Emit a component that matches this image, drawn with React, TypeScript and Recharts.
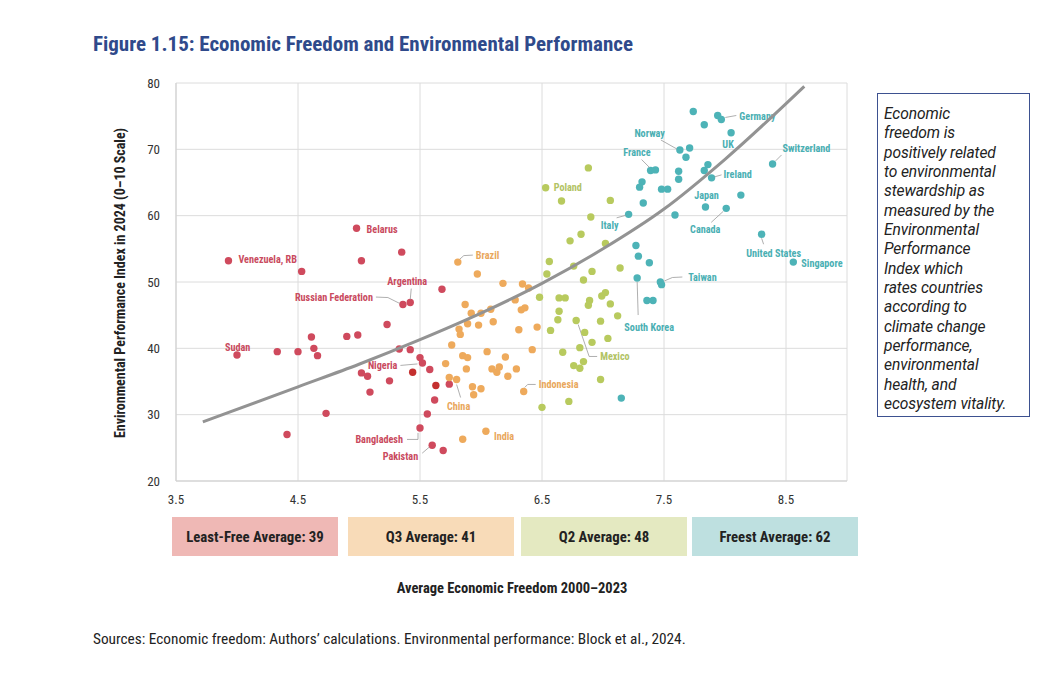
import { CartesianGrid, Scatter, ScatterChart, XAxis, YAxis } from "recharts";

type Pt = { x: number; y: number; name?: string };

// Least-free quartile
const leastFree: Pt[] = [
  { x: 4.98, y: 58.1, name: "Belarus" },
  { x: 3.93, y: 53.2, name: "Venezuela, RB" },
  { x: 5.35, y: 54.5 },
  { x: 5.02, y: 53.2 },
  { x: 4.53, y: 51.6 },
  { x: 5.68, y: 48.9 },
  { x: 5.42, y: 46.9, name: "Argentina" },
  { x: 5.36, y: 46.6, name: "Russian Federation" },
  { x: 5.23, y: 43.6 },
  { x: 4.61, y: 41.7 },
  { x: 4.9, y: 41.8 },
  { x: 4.99, y: 42.0 },
  { x: 4.0, y: 39.0, name: "Sudan" },
  { x: 4.33, y: 39.5 },
  { x: 4.5, y: 39.5 },
  { x: 4.63, y: 40.0 },
  { x: 4.66, y: 38.9 },
  { x: 5.33, y: 39.9 },
  { x: 5.42, y: 39.8 },
  { x: 5.5, y: 38.6 },
  { x: 5.52, y: 37.8, name: "Nigeria" },
  { x: 5.58, y: 36.8 },
  { x: 5.02, y: 36.3 },
  { x: 5.07, y: 35.8 },
  { x: 5.25, y: 35.1 },
  { x: 5.09, y: 33.4 },
  { x: 5.74, y: 34.6 },
  { x: 5.62, y: 32.2 },
  { x: 5.56, y: 30.1 },
  { x: 4.73, y: 30.2 },
  { x: 4.41, y: 27.0 },
  { x: 5.5, y: 28.0, name: "Bangladesh" },
  { x: 5.6, y: 25.4, name: "Pakistan" },
  { x: 5.69, y: 24.6 },
];
const leastFreeDark: Pt[] = [
  { x: 5.44, y: 36.4 },
  { x: 5.63, y: 34.4 },
];

// Third quartile
const thirdQuartile: Pt[] = [
  { x: 5.81, y: 53.0, name: "Brazil" },
  { x: 5.97, y: 51.2 },
  { x: 6.18, y: 49.8 },
  { x: 6.34, y: 49.7 },
  { x: 6.39, y: 49.1 },
  { x: 6.28, y: 47.3 },
  { x: 6.33, y: 45.8 },
  { x: 6.36, y: 46.1 },
  { x: 5.87, y: 46.6 },
  { x: 5.92, y: 45.3 },
  { x: 6.0, y: 45.3 },
  { x: 6.08, y: 45.9 },
  { x: 5.89, y: 43.7 },
  { x: 5.98, y: 43.5 },
  { x: 6.1, y: 44.0 },
  { x: 5.82, y: 42.9 },
  { x: 5.83, y: 42.1 },
  { x: 6.31, y: 42.8 },
  { x: 6.46, y: 43.2 },
  { x: 5.76, y: 40.5 },
  { x: 6.05, y: 39.5 },
  { x: 6.42, y: 39.8 },
  { x: 5.85, y: 38.9 },
  { x: 5.89, y: 38.6 },
  { x: 6.2, y: 38.7 },
  { x: 5.71, y: 37.7 },
  { x: 5.88, y: 36.9 },
  { x: 6.09, y: 36.9 },
  { x: 6.15, y: 37.2 },
  { x: 6.13, y: 36.4 },
  { x: 6.29, y: 36.9 },
  { x: 6.22, y: 35.8 },
  { x: 5.8, y: 35.3, name: "China" },
  { x: 5.74, y: 35.6 },
  { x: 5.93, y: 34.2 },
  { x: 6.0, y: 33.9 },
  { x: 5.94, y: 33.0 },
  { x: 6.35, y: 33.5, name: "Indonesia" },
  { x: 6.04, y: 27.5, name: "India" },
  { x: 5.85, y: 26.3 },
];

// Second quartile
const secondQuartile: Pt[] = [
  { x: 6.88, y: 67.2 },
  { x: 6.53, y: 64.2, name: "Poland" },
  { x: 6.66, y: 62.2 },
  { x: 7.06, y: 62.3 },
  { x: 6.9, y: 59.8 },
  { x: 6.82, y: 57.2 },
  { x: 6.73, y: 56.2 },
  { x: 7.02, y: 55.8 },
  { x: 6.56, y: 53.1 },
  { x: 6.76, y: 52.4 },
  { x: 6.54, y: 51.2 },
  { x: 6.91, y: 51.6 },
  { x: 7.14, y: 52.1 },
  { x: 6.84, y: 50.3 },
  { x: 6.48, y: 47.7 },
  { x: 6.64, y: 47.6 },
  { x: 6.69, y: 47.6 },
  { x: 6.89, y: 47.2 },
  { x: 6.88, y: 46.5 },
  { x: 6.99, y: 47.9 },
  { x: 7.02, y: 48.4 },
  { x: 7.06, y: 46.7 },
  { x: 6.64, y: 45.6 },
  { x: 7.12, y: 44.9 },
  { x: 6.63, y: 44.3 },
  { x: 6.78, y: 44.2, name: "Mexico" },
  { x: 6.98, y: 44.1 },
  { x: 6.57, y: 42.7 },
  { x: 6.85, y: 42.4 },
  { x: 6.91, y: 40.9 },
  { x: 7.04, y: 41.5 },
  { x: 6.81, y: 40.1 },
  { x: 6.67, y: 39.4 },
  { x: 6.76, y: 37.4 },
  { x: 6.84, y: 38.0 },
  { x: 6.81, y: 37.0 },
  { x: 6.98, y: 35.3 },
  { x: 6.72, y: 32.0 },
  { x: 6.5, y: 31.1 },
];

// Freest quartile
const freest: Pt[] = [
  { x: 7.74, y: 75.7 },
  { x: 7.94, y: 75.1 },
  { x: 7.97, y: 74.5, name: "Germany" },
  { x: 7.83, y: 73.7 },
  { x: 8.05, y: 72.5, name: "UK" },
  { x: 7.63, y: 69.9, name: "Norway" },
  { x: 7.71, y: 70.2 },
  { x: 7.68, y: 68.8 },
  { x: 8.39, y: 67.8, name: "Switzerland" },
  { x: 7.39, y: 66.8, name: "France" },
  { x: 7.43, y: 66.9 },
  { x: 7.62, y: 66.7 },
  { x: 7.62, y: 65.5 },
  { x: 7.86, y: 67.7 },
  { x: 7.83, y: 66.8 },
  { x: 7.89, y: 65.7, name: "Ireland" },
  { x: 7.32, y: 65.1 },
  { x: 7.3, y: 64.3 },
  { x: 7.48, y: 64.0 },
  { x: 7.53, y: 64.0 },
  { x: 7.33, y: 61.9 },
  { x: 8.13, y: 63.1 },
  { x: 7.84, y: 61.3, name: "Japan" },
  { x: 8.01, y: 61.1, name: "Canada" },
  { x: 7.59, y: 60.1 },
  { x: 7.21, y: 60.2, name: "Italy" },
  { x: 8.3, y: 57.2, name: "United States" },
  { x: 7.27, y: 55.5 },
  { x: 7.29, y: 53.9 },
  { x: 7.38, y: 52.9 },
  { x: 8.56, y: 53.0, name: "Singapore" },
  { x: 7.28, y: 50.6, name: "South Korea" },
  { x: 7.47, y: 50.0, name: "Taiwan" },
  { x: 7.48, y: 49.6 },
  { x: 7.36, y: 47.2 },
  { x: 7.41, y: 47.2 },
  { x: 7.15, y: 32.5 },
];

const trendLine = [
  { x: 3.72, y: 28.9 },
  { x: 4.5, y: 34.2 },
  { x: 5.0, y: 37.6 },
  { x: 5.5, y: 41.3 },
  { x: 6.0, y: 45.3 },
  { x: 6.5, y: 49.8 },
  { x: 7.0, y: 55.0 },
  { x: 7.5, y: 61.0 },
  { x: 8.0, y: 68.5 },
  { x: 8.65, y: 79.5 },
];

const xTicks = [3.5, 4.5, 5.5, 6.5, 7.5, 8.5];
const yTicks = [20, 30, 40, 50, 60, 70, 80];
const quartileLabels = ["Least-Free Average: 39", "Q3 Average: 41", "Q2 Average: 48", "Freest Average: 62"];
const noteLines = [
  "Economic",
  "freedom is",
  "positively related",
  "to environmental",
  "stewardship as",
  "measured by the",
  "Environmental",
  "Performance",
  "Index which",
  "rates countries",
  "according to",
  "climate change",
  "performance,",
  "environmental",
  "health, and",
  "ecosystem vitality.",
];

const FONT = '"Roboto Condensed", "Liberation Sans Narrow", "DejaVu Sans Condensed", Roboto, sans-serif';

type Layout = { dx: number; dy: number; anchor: "start" | "middle" | "end"; leader?: number[][] };

// label placement relative to the dot, in pixels
const LABELS: Record<string, Layout> = {
  Belarus: { dx: 10, dy: 1, anchor: "start" },
  "Venezuela, RB": { dx: 10, dy: -1, anchor: "start" },
  Argentina: { dx: -3, dy: -21, anchor: "middle", leader: [[0, -3], [1, -14]] },
  "Russian Federation": { dx: -30, dy: -7, anchor: "end", leader: [[-27, -7.5], [-15, -7], [-3, -1]] },
  Sudan: { dx: -12, dy: -7.5, anchor: "start" },
  Nigeria: { dx: -25, dy: 3, anchor: "end", leader: [[-22, 2.5], [-5, 1]] },
  Bangladesh: { dx: -17, dy: 11.5, anchor: "end", leader: [[-13, 11.5], [-2, 11.5], [-2, 5]] },
  Pakistan: { dx: -14, dy: 11.5, anchor: "end", leader: [[-10, 8], [-3, 2]] },
  Brazil: { dx: 18, dy: -6.5, anchor: "start", leader: [[2, -3], [6, -6.5], [15, -7]] },
  China: { dx: 2, dy: 27, anchor: "middle", leader: [[0, 5], [4, 18]] },
  Indonesia: { dx: 15, dy: -6.5, anchor: "start", leader: [[1, -4], [4, -7], [12, -7]] },
  India: { dx: 8, dy: 5.5, anchor: "start" },
  Poland: { dx: 8, dy: 0, anchor: "start" },
  Mexico: { dx: 24, dy: 36, anchor: "start", leader: [[2, 4], [13, 36], [21, 36]] },
  Germany: { dx: 18, dy: -3.3, anchor: "start", leader: [[4, -2], [15, -4]] },
  UK: { dx: -3, dy: 11.5, anchor: "middle" },
  Norway: { dx: -15, dy: -16, anchor: "end", leader: [[-19, -10], [-3, -1]] },
  France: { dx: 0, dy: -18, anchor: "end", leader: [[-9, -11], [-1, -3]] },
  Switzerland: { dx: 10, dy: -15, anchor: "start", leader: [[3, -3], [9, -9]] },
  Ireland: { dx: 12, dy: -3.7, anchor: "start", leader: [[3, -1], [10, -3]] },
  Japan: { dx: 1, dy: -11.5, anchor: "middle" },
  Canada: { dx: -21, dy: 21, anchor: "middle", leader: [[-3, 3], [-15, 14]] },
  Italy: { dx: -19, dy: 11.5, anchor: "middle", leader: [[-3, 1], [-12, 3.5]] },
  "United States": { dx: 12, dy: 19, anchor: "middle", leader: [[0, 4], [2, 10]] },
  Singapore: { dx: 8, dy: 1, anchor: "start" },
  Taiwan: { dx: 28, dy: -4.5, anchor: "start", leader: [[4, -1], [12, -4.5], [22, -5]] },
  "South Korea": { dx: 12, dy: 49, anchor: "middle", leader: [[0, 4], [1, 37]] },
};

const makeDot = (fill: string, labelFill: string) => (props: any) => {
  const { cx, cy, payload } = props;
  const lay = payload?.name ? LABELS[payload.name] : undefined;
  return (
    <g>
      <circle cx={cx} cy={cy} r={3.7} fill={fill} />
      {lay?.leader && (
        <polyline
          points={lay.leader.map(([a, b]) => `${cx + a},${cy + b}`).join(" ")}
          fill="none"
          stroke="#9a9a9a"
          strokeWidth={0.8}
        />
      )}
      {lay && (
        <text
          x={cx + lay.dx}
          y={cy + lay.dy}
          textAnchor={lay.anchor}
          dominantBaseline="central"
          fontSize={10.2}
          fontWeight={700}
          fontFamily={FONT}
          fill={labelFill}
        >
          {payload.name}
        </text>
      )}
    </g>
  );
};

const boxColors = ["#efb8b5", "#f8dbb8", "#e4e9c1", "#bee0e0"];
const boxLeft = [172, 348, 521, 692];

export default function App() {
  return (
    <div style={{ position: "absolute", left: 0, top: 0, width: 1058, height: 697, background: "#fff", fontFamily: FONT, color: "#222" }}>
      <div style={{ position: "absolute", left: 93, top: 32, fontSize: 21, fontWeight: 700, color: "#2f4a8b", whiteSpace: "nowrap" }}>
        Figure 1.15: Economic Freedom and Environmental Performance
      </div>

      <div
        style={{
          position: "absolute",
          left: 120,
          top: 283,
          transform: "translate(-50%, -50%) rotate(-90deg)",
          fontSize: 14,
          fontWeight: 700,
          whiteSpace: "nowrap",
        }}
      >
        Environmental Performance Index in 2024 (0–10 Scale)
      </div>

      <div style={{ position: "absolute", left: 0, top: 0 }}>
        <ScatterChart width={870} height={520} margin={{ top: 83, right: 23, bottom: 9, left: 136 }}>
          <CartesianGrid stroke="#dcdcdc" strokeWidth={1} />
          <XAxis
            type="number"
            dataKey="x"
            domain={[3.5, 9]}
            ticks={xTicks}
            tickLine={false}
            axisLine={{ stroke: "#cfcfcf" }}
            height={30}
            tick={{ fill: "#333", fontSize: 13, fontFamily: FONT }}
            tickMargin={8}
            allowDataOverflow
          />
          <YAxis
            type="number"
            dataKey="y"
            domain={[20, 80]}
            ticks={yTicks}
            tickLine={false}
            axisLine={{ stroke: "#cfcfcf" }}
            width={40}
            tick={{ fill: "#333", fontSize: 13, fontFamily: FONT }}
            tickMargin={10}
          />
          <Scatter data={leastFree} shape={makeDot("#cf4a5d", "#c94a5e")} isAnimationActive={false} />
          <Scatter data={leastFreeDark} shape={makeDot("#c4302f", "#c94a5e")} isAnimationActive={false} />
          <Scatter data={thirdQuartile} shape={makeDot("#eeaa5c", "#e9a75c")} isAnimationActive={false} />
          <Scatter data={secondQuartile} shape={makeDot("#b8ca5e", "#b2c364")} isAnimationActive={false} />
          <Scatter data={freest} shape={makeDot("#4db3b7", "#4aafb3")} isAnimationActive={false} />
          <Scatter
            data={trendLine}
            line={{ stroke: "#939393", strokeWidth: 3 }}
            lineJointType="monotoneX"
            shape={() => <g />}
            isAnimationActive={false}
          />
        </ScatterChart>
      </div>

      {quartileLabels.map((label, i) => (
        <div
          key={label}
          style={{
            position: "absolute",
            left: boxLeft[i],
            top: 517,
            width: 166,
            height: 39,
            background: boxColors[i],
            display: "flex",
            alignItems: "center",
            justifyContent: "center",
            fontSize: 14.8,
            fontWeight: 700,
            color: "#222",
          }}
        >
          {label}
        </div>
      ))}

      <div style={{ position: "absolute", left: 512, top: 588, transform: "translate(-50%, -50%)", fontSize: 14.5, fontWeight: 700, whiteSpace: "nowrap" }}>
        Average Economic Freedom 2000–2023
      </div>

      <div
        style={{
          position: "absolute",
          left: 877,
          top: 93,
          width: 153,
          height: 324,
          boxSizing: "border-box",
          border: "1px solid #3d5190",
          padding: "11px 0 0 6px",
          fontFamily: "Roboto, sans-serif",
          fontSize: 15.6,
          lineHeight: "19.33px",
          fontStyle: "italic",
          letterSpacing: "-0.1px",
          color: "#222",
        }}
      >
        {noteLines.map((l) => (
          <div key={l} style={{ whiteSpace: "nowrap" }}>
            {l}
          </div>
        ))}
      </div>

      <div style={{ position: "absolute", left: 93, top: 630, fontSize: 15.3, whiteSpace: "nowrap" }}>
        Sources: Economic freedom: Authors’ calculations. Environmental performance: Block et al., 2024.
      </div>
    </div>
  );
}
